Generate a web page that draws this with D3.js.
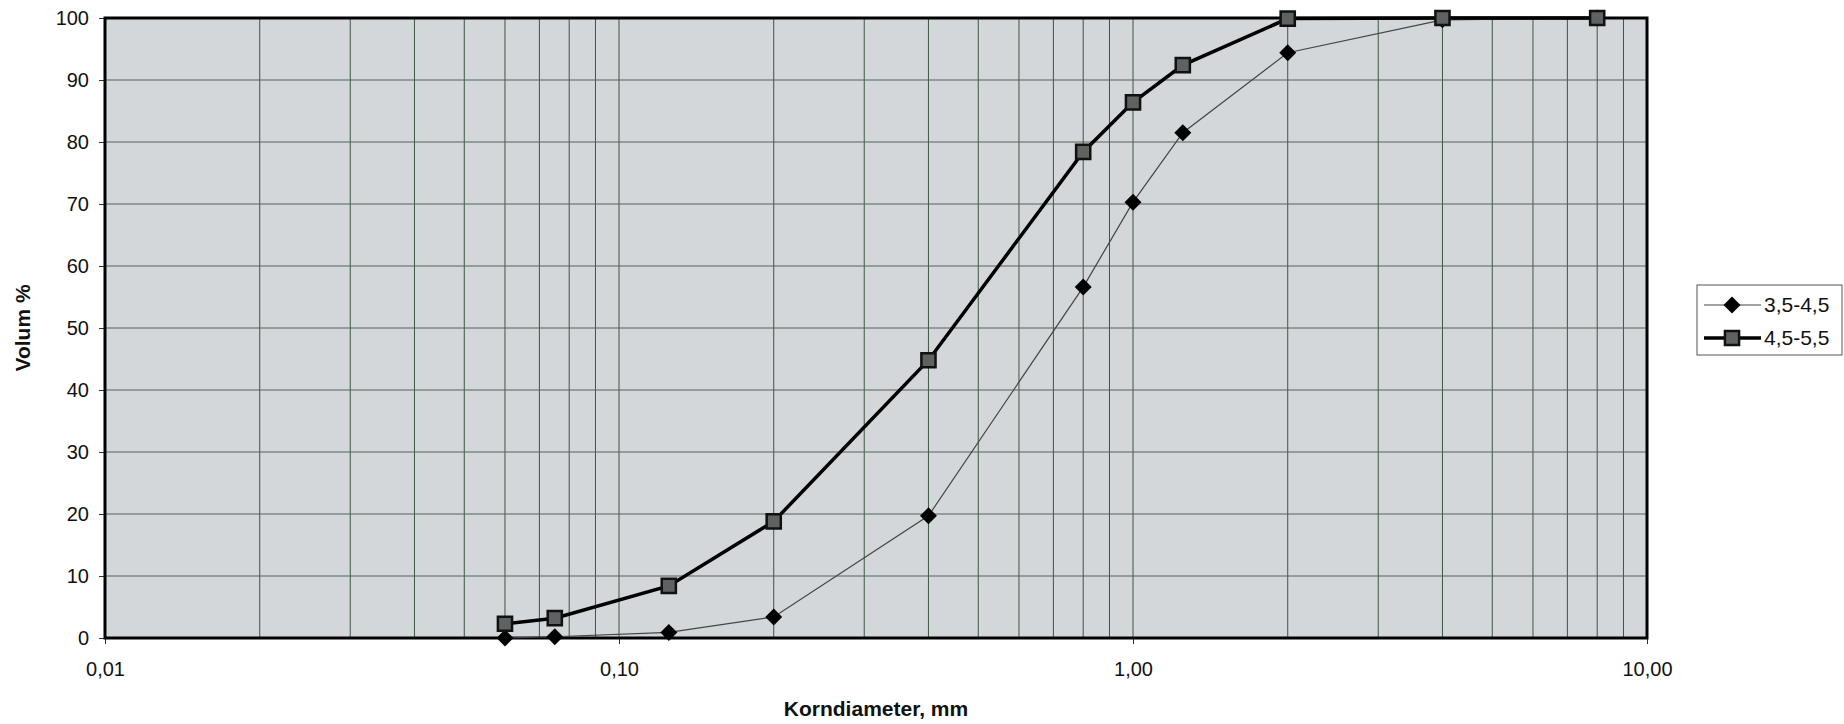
<!DOCTYPE html>
<html>
<head>
<meta charset="utf-8">
<script src="https://cdn.jsdelivr.net/npm/d3@7"></script>
<style>
  body { margin: 0; background: #fff; }
  text { font-family: "Liberation Sans", Arial, sans-serif; }
</style>
</head>
<body>
<svg id="chart"></svg>
<script>
// Korndiameter (mm) for each sieve
const sizes = [0.06, 0.075, 0.125, 0.2, 0.4, 0.8, 1, 1.25, 2, 4, 8];
// Volum % per series
const series1 = [0, 0.2, 0.9, 3.4, 19.7, 56.6, 70.3, 81.5, 94.4, 99.7, 100];
const series2 = [2.3, 3.2, 8.4, 18.8, 44.8, 78.4, 86.4, 92.4, 99.9, 100, 100];
const seriesNames = ["3,5-4,5", "4,5-5,5"];
const xTicks = [0.01, 0.1, 1, 10];
const yTicks = [0, 10, 20, 30, 40, 50, 60, 70, 80, 90, 100];

const width = 1844;
const height = 724;
const margin = {top: 18, right: 197, bottom: 86, left: 105};

const svg = d3.select("#chart")
    .attr("width", width)
    .attr("height", height);

const x = d3.scaleLog()
    .domain([0.01, 10])
    .range([margin.left, width - margin.right]);

const y = d3.scaleLinear()
    .domain([0, 100])
    .range([height - margin.bottom, margin.top]);

const locale = d3.formatLocale({decimal: ",", thousands: ".", grouping: [3], currency: ["", ""]});
const fmt = locale.format(".2f");

// plot background
svg.append("rect")
    .attr("x", x(0.01))
    .attr("y", y(100))
    .attr("width", x(10) - x(0.01))
    .attr("height", y(0) - y(100))
    .attr("fill", "#d3d7d9");

// vertical grid on every log step
const minor = [];
for (let p = -2; p < 1; p++) {
    for (let m = 1; m <= 9; m++) minor.push(m * Math.pow(10, p));
}
svg.append("g")
    .attr("stroke", "#3f5546")
    .attr("stroke-width", 1)
  .selectAll("line")
  .data(minor.filter(d => d > 0.01))
  .join("line")
    .attr("x1", d => x(d)).attr("x2", d => x(d))
    .attr("y1", y(0)).attr("y2", y(100));

// horizontal grid
svg.append("g")
    .attr("stroke", "#56615b")
    .attr("stroke-width", 1)
  .selectAll("line")
  .data(yTicks.filter(d => d > 0 && d < 100))
  .join("line")
    .attr("x1", x(0.01)).attr("x2", x(10))
    .attr("y1", d => y(d)).attr("y2", d => y(d));

// axes
const xAxis = svg.append("g")
    .attr("transform", `translate(0,${y(0)})`)
    .call(d3.axisBottom(x).tickValues(xTicks).tickFormat(fmt).tickSize(6).tickPadding(18));
const yAxis = svg.append("g")
    .attr("transform", `translate(${x(0.01)},0)`)
    .call(d3.axisLeft(y).tickValues(yTicks).tickSize(6).tickPadding(10));

[xAxis, yAxis].forEach(a => {
    a.select(".domain").remove();
    a.selectAll("line").attr("stroke", "#333");
    a.selectAll("text")
        .attr("font-size", 20)
        .attr("fill", "#111")
        .style("font-family", "'Liberation Sans', Arial, sans-serif");
});

// plot border
svg.append("rect")
    .attr("x", x(0.01))
    .attr("y", y(100))
    .attr("width", x(10) - x(0.01))
    .attr("height", y(0) - y(100))
    .attr("fill", "none")
    .attr("stroke", "#000")
    .attr("stroke-width", 3);

// axis titles
svg.append("text")
    .attr("x", (x(0.01) + x(10)) / 2)
    .attr("y", 716)
    .attr("text-anchor", "middle")
    .attr("font-size", 21)
    .attr("font-weight", "bold")
    .attr("fill", "#111")
    .text("Korndiameter, mm");

svg.append("text")
    .attr("transform", `translate(30,${(y(0) + y(100)) / 2}) rotate(-90)`)
    .attr("text-anchor", "middle")
    .attr("font-size", 21)
    .attr("font-weight", "bold")
    .attr("fill", "#111")
    .text("Volum %");

const line = d3.line()
    .x(d => x(d[0]))
    .y(d => y(d[1]));

const pts1 = sizes.map((s, i) => [s, series1[i]]);
const pts2 = sizes.map((s, i) => [s, series2[i]]);

// rotated square = diamond, ~17px across
const diamond = d3.symbol().type(d3.symbolSquare).size(144);
const square = d3.symbol().type(d3.symbolSquare).size(200);

// series 1: thin line, diamonds
svg.append("path")
    .datum(pts1)
    .attr("d", line)
    .attr("fill", "none")
    .attr("stroke", "#444")
    .attr("stroke-width", 1.2);

svg.append("g")
  .selectAll("path")
  .data(pts1)
  .join("path")
    .attr("d", diamond)
    .attr("transform", d => `translate(${x(d[0])},${y(d[1])}) rotate(45)`)
    .attr("fill", "#000");

// series 2: thick line, squares
svg.append("path")
    .datum(pts2)
    .attr("d", line)
    .attr("fill", "none")
    .attr("stroke", "#000")
    .attr("stroke-width", 3.5);

svg.append("g")
  .selectAll("path")
  .data(pts2)
  .join("path")
    .attr("d", square)
    .attr("transform", d => `translate(${x(d[0])},${y(d[1])})`)
    .attr("fill", "#5e6260")
    .attr("stroke", "#111")
    .attr("stroke-width", 2.5);

// legend
const legend = svg.append("g");
legend.append("rect")
    .attr("x", 1697).attr("y", 285)
    .attr("width", 145).attr("height", 70)
    .attr("fill", "#fff")
    .attr("stroke", "#555")
    .attr("stroke-width", 1);

const rows = legend.selectAll("g.row")
  .data(seriesNames)
  .join("g")
    .attr("class", "row")
    .attr("transform", (d, i) => `translate(0,${305 + i * 33})`);

rows.append("line")
    .attr("x1", 1704).attr("x2", 1761)
    .attr("stroke", (d, i) => i === 0 ? "#444" : "#000")
    .attr("stroke-width", (d, i) => i === 0 ? 1.2 : 3.5);

rows.append("path")
    .attr("d", (d, i) => i === 0 ? diamond() : square())
    .attr("transform", (d, i) => `translate(1732,0) rotate(${i === 0 ? 45 : 0})`)
    .attr("fill", (d, i) => i === 0 ? "#000" : "#5e6260")
    .attr("stroke", (d, i) => i === 0 ? "none" : "#111")
    .attr("stroke-width", 2.5);

rows.append("text")
    .attr("x", 1764)
    .attr("dy", "0.35em")
    .attr("font-size", 21)
    .attr("fill", "#111")
    .text(d => d);
</script>
</body>
</html>
